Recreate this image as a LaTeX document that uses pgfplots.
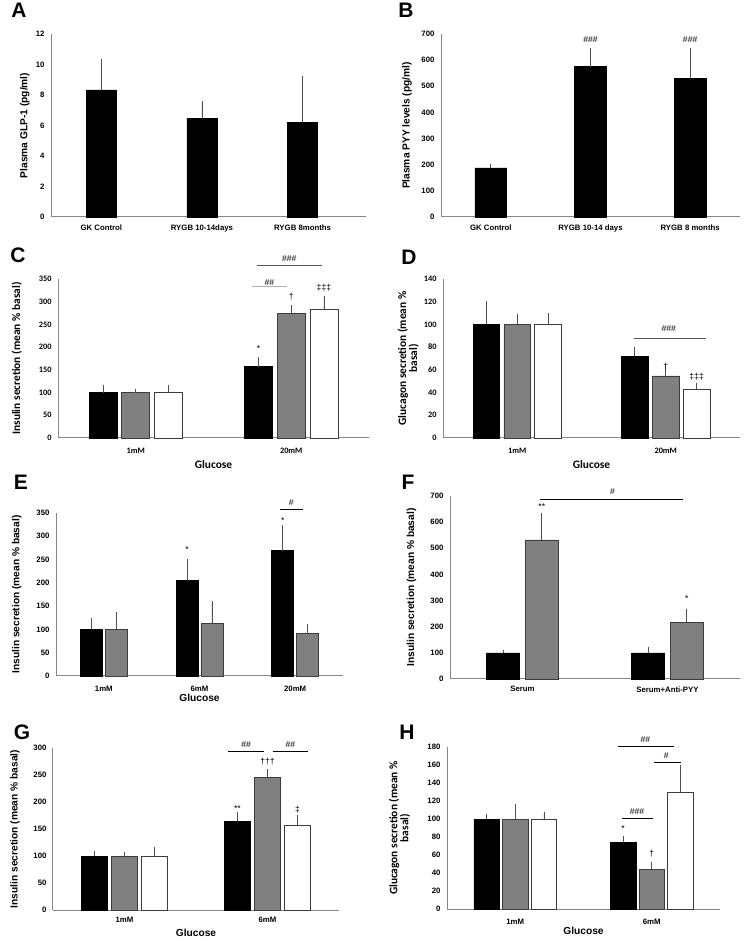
\documentclass[border=0pt]{standalone}
\usepackage{fontspec}
\setmainfont{Liberation Sans}
\newfontfamily\carl{Carlito}
\usepackage{pgfplots}
\pgfplotsset{compat=1.18}
\definecolor{barg}{RGB}{128,128,128}
\definecolor{edge}{RGB}{60,60,60}
\definecolor{axg}{RGB}{134,134,134}
\definecolor{errc}{RGB}{80,80,80}
\definecolor{lgl}{RGB}{175,175,175}
\definecolor{dgl}{RGB}{85,85,85}
\tikzset{ann/.style={font=\fontsize{8.6}{9}\selectfont},
  plet/.style={font=\fontsize{21}{23}\selectfont\bfseries}}
\pgfplotsset{
 panel/.style={scale only axis, anchor=south west, clip=false, ybar,
   axis lines=left, axis line style={-, draw=axg, line width=1pt},
   major tick length=0pt, ymin=0, xmin=-0.5,
   tick label style={font=\fontsize{7.8}{9}\selectfont\bfseries},
   /pgf/number format/assume math mode=true,
   label style={font=\fontsize{10.2}{12}\selectfont\bfseries},
   xticklabel style={yshift=-4pt},
   yticklabel style={xshift=-3pt},
 },
 calpanel/.style={
   tick label style={font=\fontsize{8.3}{9.5}\selectfont\carl\bfseries},
   label style={font=\fontsize{11.4}{13.5}\selectfont\carl\bfseries},
 },
 eb/.style={error bars/.cd, y dir=plus, y explicit,
   error bar style={errc, line width=0.8pt},
   error mark options={errc, mark size=1.7pt, line width=0.8pt}},
 blk/.style={fill=black, draw=black, line width=0.6pt, eb},
 gry/.style={fill=barg, draw=edge, line width=0.6pt, eb},
 wht/.style={fill=white, draw=edge, line width=0.8pt, eb},
}
\begin{document}
\begin{tikzpicture}[x=1pt,y=1pt]
\useasboundingbox (0,0) rectangle (744,945);
% ---------------- A
\node[plet] at (19,935) {A};
\begin{axis}[panel, at={(51pt,728pt)}, width=315pt, height=183pt,
  xmax=2.63, ymax=12, ytick distance=2, bar width=0.3,
  xtick={0,1,2}, xticklabels={GK Control, RYGB 10-14days, RYGB 8months},
  ylabel={Plasma GLP-1 (pg/ml)},
  ylabel style={at={(axis description cs:-0.083,0.5)}, anchor=center}]
\addplot[bar shift=0, blk] coordinates {(0,8.33) +- (0,1.9) (1,6.48) +- (0,1.02) (2,6.22) +- (0,2.9)};
\end{axis}
% ---------------- B
\node[plet] at (406,935) {B};
\begin{axis}[panel, at={(441pt,728pt)}, width=299pt, height=183pt,
  xmax=2.5, ymax=700, ytick distance=100, bar width=0.32,
  xtick={0,1,2}, xticklabels={GK Control, RYGB 10-14 days, RYGB 8 months},
  ylabel={Plasma PYY levels (pg/ml)},
  ylabel style={at={(axis description cs:-0.114,0.5)}, anchor=center}]
\addplot[bar shift=0, blk] coordinates {(0,188) +- (0,8) (1,575) +- (0,64) (2,530) +- (0,111)};
\node[ann] at (axis cs:1,680) {\#\#\#};
\node[ann] at (axis cs:2,680) {\#\#\#};
\end{axis}
% ---------------- C
\node[plet] at (18,690) {C};
\begin{axis}[panel, calpanel, at={(58pt,507pt)}, width=311pt, height=159pt,
  xmax=1.5, ymax=350, ytick distance=50, bar width=0.18,
  xtick={0,1}, xticklabels={1mM, 20mM}, xticklabel style={yshift=-3pt},
  ylabel={Insulin secretion (mean \% basal)}, xlabel={Glucose},
  ylabel style={at={(axis description cs:-0.133,0.5)}, anchor=center},
  xlabel style={at={(axis description cs:0.5,-0.164)}, anchor=center}]
\addplot[bar shift=-0.21, blk] coordinates {(0,100) +- (0,12) (1,157) +- (0,18)};
\addplot[bar shift=0, gry] coordinates {(0,100) +- (0,5) (1,275) +- (0,14)};
\addplot[bar shift=0.21, wht] coordinates {(0,100) +- (0,13) (1,284) +- (0,25)};
\draw[lgl, line width=1pt] (axis cs:0.746,334) -- (axis cs:0.975,334);
\node[ann] at (axis cs:0.86,343) {\#\#};
\draw[dgl, line width=0.8pt] (axis cs:0.778,379) -- (axis cs:1.196,379);
\node[ann] at (axis cs:0.987,394) {\#\#\#};
\node[ann] at (axis cs:0.79,196) {*};
\node[ann] at (axis cs:1,310) {\dag};
\node[ann] at (axis cs:1.21,330) {\ddag\ddag\ddag};
\end{axis}
% ---------------- D
\node[plet] at (409,688) {D};
\begin{axis}[panel, calpanel, at={(443pt,507pt)}, width=297pt, height=159pt,
  xmax=1.5, ymax=140, ytick distance=20, bar width=0.18,
  xtick={0,1}, xticklabels={1mM, 20mM}, xticklabel style={yshift=-3pt},
  ylabel={Glucagon secretion (mean \%\\[-2.7pt]basal)}, xlabel={Glucose},
  ylabel style={at={(axis description cs:-0.117,0.5)}, anchor=center, align=center},
  xlabel style={at={(axis description cs:0.5,-0.164)}, anchor=center}]
\addplot[bar shift=-0.208, blk] coordinates {(0,100) +- (0,19.5) (1,72) +- (0,6.5)};
\addplot[bar shift=0, gry] coordinates {(0,100) +- (0,8) (1,54.6) +- (0,7)};
\addplot[bar shift=0.208, wht] coordinates {(0,100) +- (0,8.5) (1,42.9) +- (0,3.8)};
\draw[dgl, line width=0.8pt] (axis cs:0.784,87.8) -- (axis cs:1.272,87.8);
\node[ann] at (axis cs:1.02,96.5) {\#\#\#};
\node[ann] at (axis cs:1,62.5) {\dag};
\node[ann] at (axis cs:1.208,54.3) {\ddag\ddag\ddag};
\end{axis}
% ---------------- E
\node[plet] at (21,463) {E};
\begin{axis}[panel, at={(56pt,269pt)}, width=287pt, height=163pt,
  xmax=2.5, ymax=350, ytick distance=50, bar width=0.23,
  xtick={0,1,2}, xticklabels={1mM, 6mM, 20mM}, xticklabel style={yshift=-3pt},
  ylabel={Insulin secretion (mean \% basal)}, xlabel={Glucose},
  ylabel style={at={(axis description cs:-0.137,0.5)}, anchor=center},
  xlabel style={at={(axis description cs:0.5,-0.135)}, anchor=center}]
\addplot[bar shift=-0.13, blk] coordinates {(0,100) +- (0,20.5) (1,205) +- (0,42.5) (2,269) +- (0,51)};
\addplot[bar shift=0.13, gry] coordinates {(0,100) +- (0,33.6) (1,113) +- (0,45) (2,91) +- (0,18)};
\node[ann] at (axis cs:0.87,271) {*};
\node[ann] at (axis cs:1.87,334) {*};
\draw[black, line width=0.8pt] (axis cs:1.84,358.6) -- (axis cs:2.08,358.6);
\node[ann] at (axis cs:1.96,372) {\#};
\end{axis}
% ---------------- F
\node[plet] at (408,463) {F};
\begin{axis}[panel, at={(450pt,266pt)}, width=290pt, height=183pt,
  xmax=1.5, ymax=700, ytick distance=100, bar width=0.228,
  xtick={0,1}, xticklabels={Serum, Serum+Anti-PYY},
  ylabel={Insulin secretion (mean \% basal)},
  ylabel style={at={(axis description cs:-0.133,0.5)}, anchor=center}]
\addplot[bar shift=-0.133, blk] coordinates {(0,100) +- (0,6) (1,100) +- (0,14)};
\addplot[bar shift=0.133, gry] coordinates {(0,532) +- (0,98) (1,217) +- (0,46)};
\node[ann] at (axis cs:0.133,658) {**};
\node[ann] at (axis cs:1.133,309) {*};
\draw[black, line width=0.8pt] (axis cs:0.119,687) -- (axis cs:1.107,687);
\node[ann] at (axis cs:0.62,718) {\#};
\end{axis}
% ---------------- G
\node[plet] at (22,213) {G};
\begin{axis}[panel, at={(53pt,35pt)}, width=286pt, height=162pt,
  xmax=1.5, ymax=300, ytick distance=50, bar width=0.184,
  xtick={0,1}, xticklabels={1mM, 6mM},
  ylabel={Insulin secretion (mean \% basal)}, xlabel={Glucose},
  ylabel style={at={(axis description cs:-0.133,0.5)}, anchor=center},
  xlabel style={at={(axis description cs:0.5,-0.142)}, anchor=center}]
\addplot[bar shift=-0.21, blk] coordinates {(0,100) +- (0,6) (1,164.5) +- (0,13)};
\addplot[bar shift=0, gry] coordinates {(0,100) +- (0,4.5) (1,245.6) +- (0,11.7)};
\addplot[bar shift=0.21, wht] coordinates {(0,100) +- (0,12.6) (1,156.5) +- (0,15.5)};
\node[ann] at (axis cs:0.79,188) {**};
\node[ann] at (axis cs:1,274) {\dag\dag\dag};
\node[ann] at (axis cs:1.21,186) {\ddag};
\draw[black, line width=0.8pt] (axis cs:0.726,294) -- (axis cs:0.978,294);
\draw[black, line width=0.8pt] (axis cs:1.036,294) -- (axis cs:1.285,294);
\node[ann] at (axis cs:0.85,306) {\#\#};
\node[ann] at (axis cs:1.16,306) {\#\#};
\end{axis}
% ---------------- H
\node[plet] at (407,213) {H};
\begin{axis}[panel, at={(447pt,36pt)}, width=273pt, height=162pt,
  xmax=1.5, ymax=180, ytick distance=20, bar width=0.187,
  xtick={0,1}, xticklabels={1mM, 6mM}, xticklabel style={yshift=-3pt},
  ylabel={Glucagon secretion (mean \%\\[-2.7pt]basal)}, xlabel={Glucose},
  ylabel style={at={(axis description cs:-0.174,0.5)}, anchor=center, align=center,
    font=\fontsize{11.4}{13.5}\selectfont\carl\bfseries},
  xlabel style={at={(axis description cs:0.5,-0.136)}, anchor=center}]
\addplot[bar shift=-0.21, blk] coordinates {(0,100) +- (0,4) (1,74.3) +- (0,5.2)};
\addplot[bar shift=0, gry] coordinates {(0,100) +- (0,14.9) (1,44) +- (0,6.6)};
\addplot[bar shift=0.21, wht] coordinates {(0,100) +- (0,5.4) (1,129.7) +- (0,28)};
\node[ann] at (axis cs:0.79,89) {*};
\node[ann] at (axis cs:1,61) {\dag};
\draw[black, line width=0.8pt] (axis cs:0.753,180.7) -- (axis cs:1.166,180.7);
\node[ann] at (axis cs:0.953,188.5) {\#\#};
\draw[black, line width=0.8pt] (axis cs:1.016,163) -- (axis cs:1.215,163);
\node[ann] at (axis cs:1.106,171) {\#};
\draw[black, line width=0.8pt] (axis cs:0.782,100.5) -- (axis cs:1.009,100.5);
\node[ann] at (axis cs:0.892,108.5) {\#\#\#};
\end{axis}
\end{tikzpicture}
\end{document}
